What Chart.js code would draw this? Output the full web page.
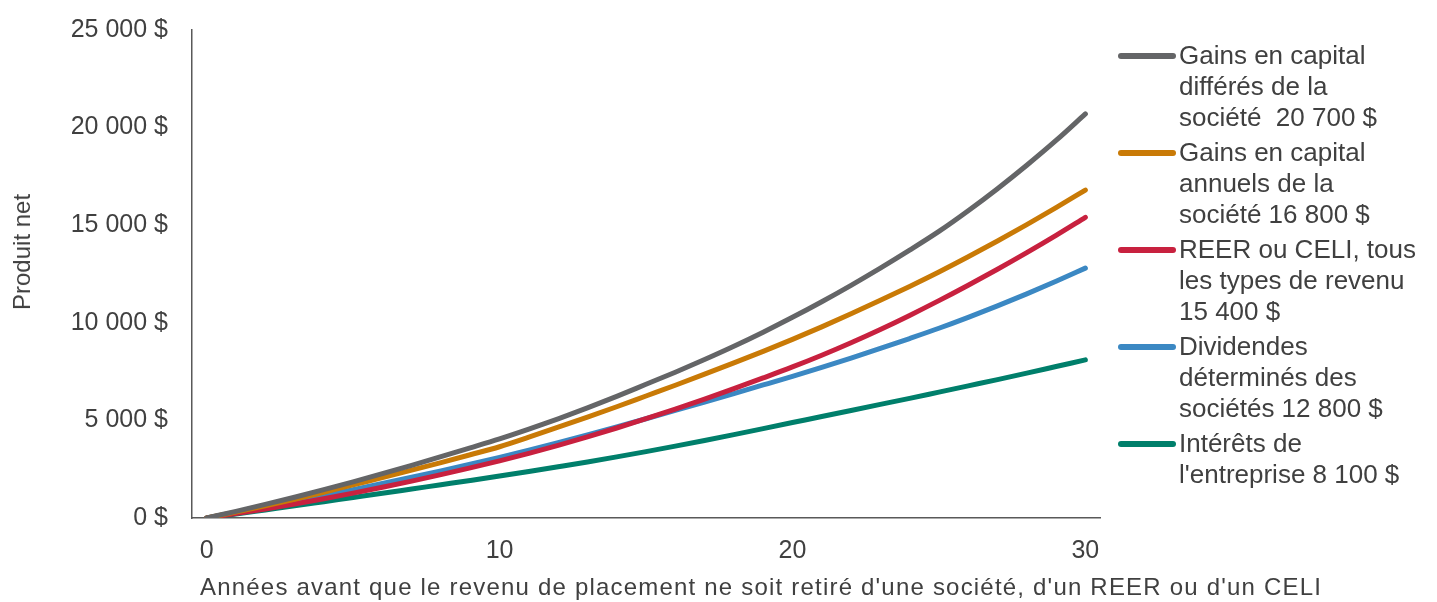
<!DOCTYPE html>
<html lang="fr">
<head>
<meta charset="utf-8">
<title>Produit net selon le type de revenu</title>
<script src="https://cdn.jsdelivr.net/npm/chart.js@4.4.1/dist/chart.umd.min.js"></script>
<style>
  html, body { margin: 0; padding: 0; background: #fff; overflow: hidden; }
  #wrap {
    position: relative;
    width: 1437px;
    height: 602px;
    overflow: hidden;
    font-family: "Liberation Sans", Arial, sans-serif;
    color: #404040;
  }
  /* the y tick padding adds room above the top label, so pull the canvas up a little */
  #chart { position: absolute; left: 0; top: -9px; }
  #legend {
    position: absolute;
    left: 1118px;
    top: 40px;
    font-size: 26px;
    line-height: 31px;
  }
  .item { position: relative; padding-left: 61px; margin-bottom: 4px; white-space: nowrap; }
  .swatch { position: absolute; left: 0; top: 13px; width: 58px; height: 6px; border-radius: 3px; }
  #xTitle {
    position: absolute;
    left: 200px;
    top: 573px;
    font-size: 24px;
    letter-spacing: 1.2px;
    line-height: 28px;
    white-space: nowrap;
  }
  #yTitle {
    position: absolute;
    left: 22px;
    top: 252px;
    font-size: 24px;
    line-height: 28px;
    white-space: nowrap;
    transform: translate(-50%, -50%) rotate(-90deg);
  }
</style>
</head>
<body>
<div id="wrap">
  <canvas id="chart" width="1437" height="611"></canvas>
  <div id="yTitle"></div>
  <div id="xTitle"></div>
  <div id="legend"></div>
</div>
<script>
// years 0..30
const years = Array.from({length: 31}, (_v, i) => i)

const yTicks = [0, 5000, 10000, 15000, 20000, 25000]

const xTitle = "Années avant que le revenu de placement ne soit retiré d'une société, d'un REER ou d'un CELI"
const yTitle = "Produit net"

const deferredGains = [0, 340, 695, 1065, 1450, 1850, 2270, 2700, 3140, 3590, 4050,
  4550, 5080, 5640, 6230, 6850, 7470, 8120, 8800, 9520, 10280,
  11080, 11920, 12800, 13720, 14680, 15740, 16870, 18070, 19340, 20700]

const annualGains = [0, 300, 620, 960, 1320, 1700, 2070, 2450, 2840, 3240, 3650,
  4140, 4650, 5170, 5700, 6250, 6800, 7370, 7950, 8540, 9150,
  9790, 10460, 11150, 11860, 12600, 13380, 14190, 15030, 15900, 16800]

const rrspTfsa = [0, 225, 465, 720, 990, 1275, 1575, 1890, 2220, 2565, 2925,
  3310, 3720, 4155, 4610, 5085, 5580, 6095, 6625, 7175, 7740,
  8340, 8980, 9660, 10380, 11135, 11925, 12745, 13595, 14480, 15400]

const eligibleDividends = [0, 270, 550, 840, 1140, 1450, 1765, 2085, 2415, 2755, 3105,
  3470, 3855, 4255, 4665, 5085, 5510, 5940, 6375, 6815, 7260,
  7720, 8195, 8685, 9195, 9720, 10280, 10870, 11485, 12130, 12800]

const corporateInterest = [0, 200, 410, 620, 835, 1050, 1265, 1485, 1705, 1925, 2150,
  2385, 2625, 2870, 3130, 3400, 3680, 3970, 4270, 4580, 4890,
  5200, 5510, 5820, 6130, 6450, 6770, 7090, 7420, 7760, 8100]

const seriesLabels = [
  ["Gains en capital", "différés de la", "société\u00a0 20 700 $"],
  ["Gains en capital", "annuels de la", "société 16 800 $"],
  ["REER ou CELI, tous", "les types de revenu", "15 400 $"],
  ["Dividendes", "déterminés des", "sociétés 12 800 $"],
  ["Intérêts de", "l'entreprise 8 100 $"],
]

const seriesColors = ["#646567", "#c97a06", "#c8213f", "#3b88c3", "#007f6b"]

const fontFamily = "'Liberation Sans', Arial, sans-serif"
const textColor = "#404040"

const formatDollars = (value) =>
  `${String(value).replace(/\B(?=(\d{3})+(?!\d))/g, " ")} $`

const allSeries = [deferredGains, annualGains, rrspTfsa, eligibleDividends, corporateInterest]

new Chart(document.getElementById("chart"), {
  type: "line",
  data: {
    labels: years,
    datasets: allSeries.map((values, i) => ({
      label: seriesLabels[i].join(" "),
      data: values,
      borderColor: seriesColors[i],
      backgroundColor: seriesColors[i],
      borderWidth: 5,
      borderCapStyle: "round",
      borderJoinStyle: "round",
      pointRadius: 0,
      cubicInterpolationMode: "monotone",
    })),
  },
  options: {
    responsive: false,
    animation: false,
    layout: {
      padding: {top: 20, right: 337, bottom: 0, left: 0},
    },
    plugins: {
      legend: {display: false},
      tooltip: {enabled: false},
    },
    scales: {
      x: {
        type: "category",
        offset: true,
        grid: {display: false, drawTicks: false},
        border: {display: true, color: "#595959", width: 1.5},
        ticks: {
          autoSkip: false,
          maxRotation: 0,
          padding: 18,
          color: textColor,
          font: {family: fontFamily, size: 25},
          callback: (_value, index) => (years[index] % 10 === 0 ? String(years[index]) : ""),
        },
        afterFit: (scale) => {
          scale.height = 84
        },
      },
      y: {
        min: 0,
        max: 25000,
        grid: {display: false, drawTicks: false},
        border: {display: true, color: "#595959", width: 1.5},
        afterBuildTicks: (scale) => {
          scale.ticks = yTicks.map((value) => ({value}))
        },
        ticks: {
          padding: 24,
          color: textColor,
          font: {family: fontFamily, size: 25},
          callback: (value) => formatDollars(value),
        },
        afterFit: (scale) => {
          scale.width = 192
        },
      },
    },
  },
})

document.getElementById("xTitle").textContent = xTitle
document.getElementById("yTitle").textContent = yTitle

// HTML legend, built from the same labels and colours
const legend = document.getElementById("legend")
seriesLabels.forEach((lines, i) => {
  const item = document.createElement("div")
  item.className = "item"
  const swatch = document.createElement("span")
  swatch.className = "swatch"
  swatch.style.background = seriesColors[i]
  item.appendChild(swatch)
  lines.forEach((line, j) => {
    if (j > 0) item.appendChild(document.createElement("br"))
    item.appendChild(document.createTextNode(line))
  })
  legend.appendChild(item)
})
</script>
</body>
</html>
